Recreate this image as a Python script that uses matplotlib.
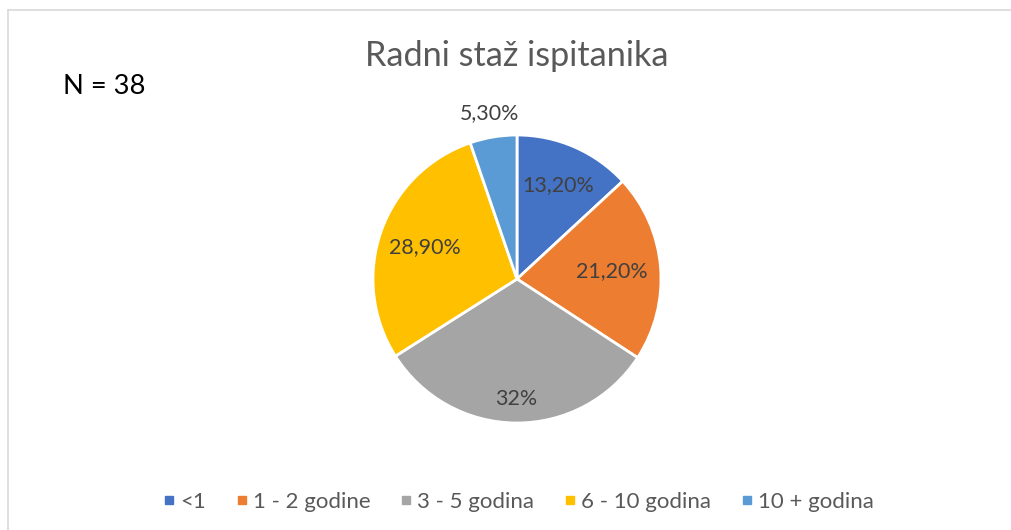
import numpy as np
import matplotlib.pyplot as plt
from matplotlib.lines import Line2D

# data
categories = ['<1', '1 - 2 godine', '3 - 5 godina', '6 - 10 godina', '10 + godina']
shares = [13.2, 21.2, 32.0, 28.9, 5.3]
pct_labels = ['13,20%', '21,20%', '32%', '28,90%', '5,30%']
colors = ['#4472C4', '#ED7D31', '#A5A5A5', '#FFC000', '#5B9BD5']

# radial position of each data label (fraction of radius), Excel "best fit"
label_radius = [0.71, 0.66, 0.83, 0.68, 1.17]

plt.rcParams['font.family'] = ['Lato', 'DejaVu Sans']

W, H = 1012, 530
fig = plt.figure(figsize=(W / 100, H / 100), dpi=100)

# pie centre and radius in pixels
cx, cy, r = 517, 279, 144
ax = fig.add_axes([(cx - r) / W, (H - cy - r) / H, 2 * r / W, 2 * r / H])

wedges, _ = ax.pie(shares, colors=colors, startangle=90, counterclock=False,
                   radius=1.0, wedgeprops=dict(edgecolor='white', linewidth=2))
ax.set_xlim(-1, 1)
ax.set_ylim(-1, 1)
ax.set_aspect('equal')
ax.axis('off')

total = sum(shares)
start = 90.0
for w, lab, d in zip(shares, pct_labels, label_radius):
    mid = np.deg2rad(start - w / total * 360 / 2)
    start -= w / total * 360
    ax.text(d * np.cos(mid), d * np.sin(mid), lab, ha='center', va='center',
            fontsize=15.4, color='#404040')

fig.text(cx / W, 1 - 66 / H, 'Radni staž ispitanika', ha='center', va='baseline',
         fontsize=24.7, color='#595959')
fig.text(63 / W, 1 - 94 / H, 'N = 38', ha='left', va='baseline',
         fontsize=19.7, color='black')

handles = [Line2D([], [], marker='s', linestyle='none', markersize=6,
                  markerfacecolor=c, markeredgecolor=c) for c in colors]
fig.legend(handles, categories, loc='center', bbox_to_anchor=(518 / W, 1 - 502 / H),
           ncol=5, frameon=False, fontsize=16, labelcolor='#595959',
           handletextpad=0.19, columnspacing=1.32, handlelength=0.6)

# light chart border (left and top edges visible)
fig.add_artist(Line2D([8 / W, 8 / W], [0, 1 - 10 / H], color='#D9D9D9', lw=1.2))
fig.add_artist(Line2D([8 / W, 1], [1 - 10 / H, 1 - 10 / H], color='#D9D9D9', lw=1.2))

fig.savefig('out.png', dpi=100)
